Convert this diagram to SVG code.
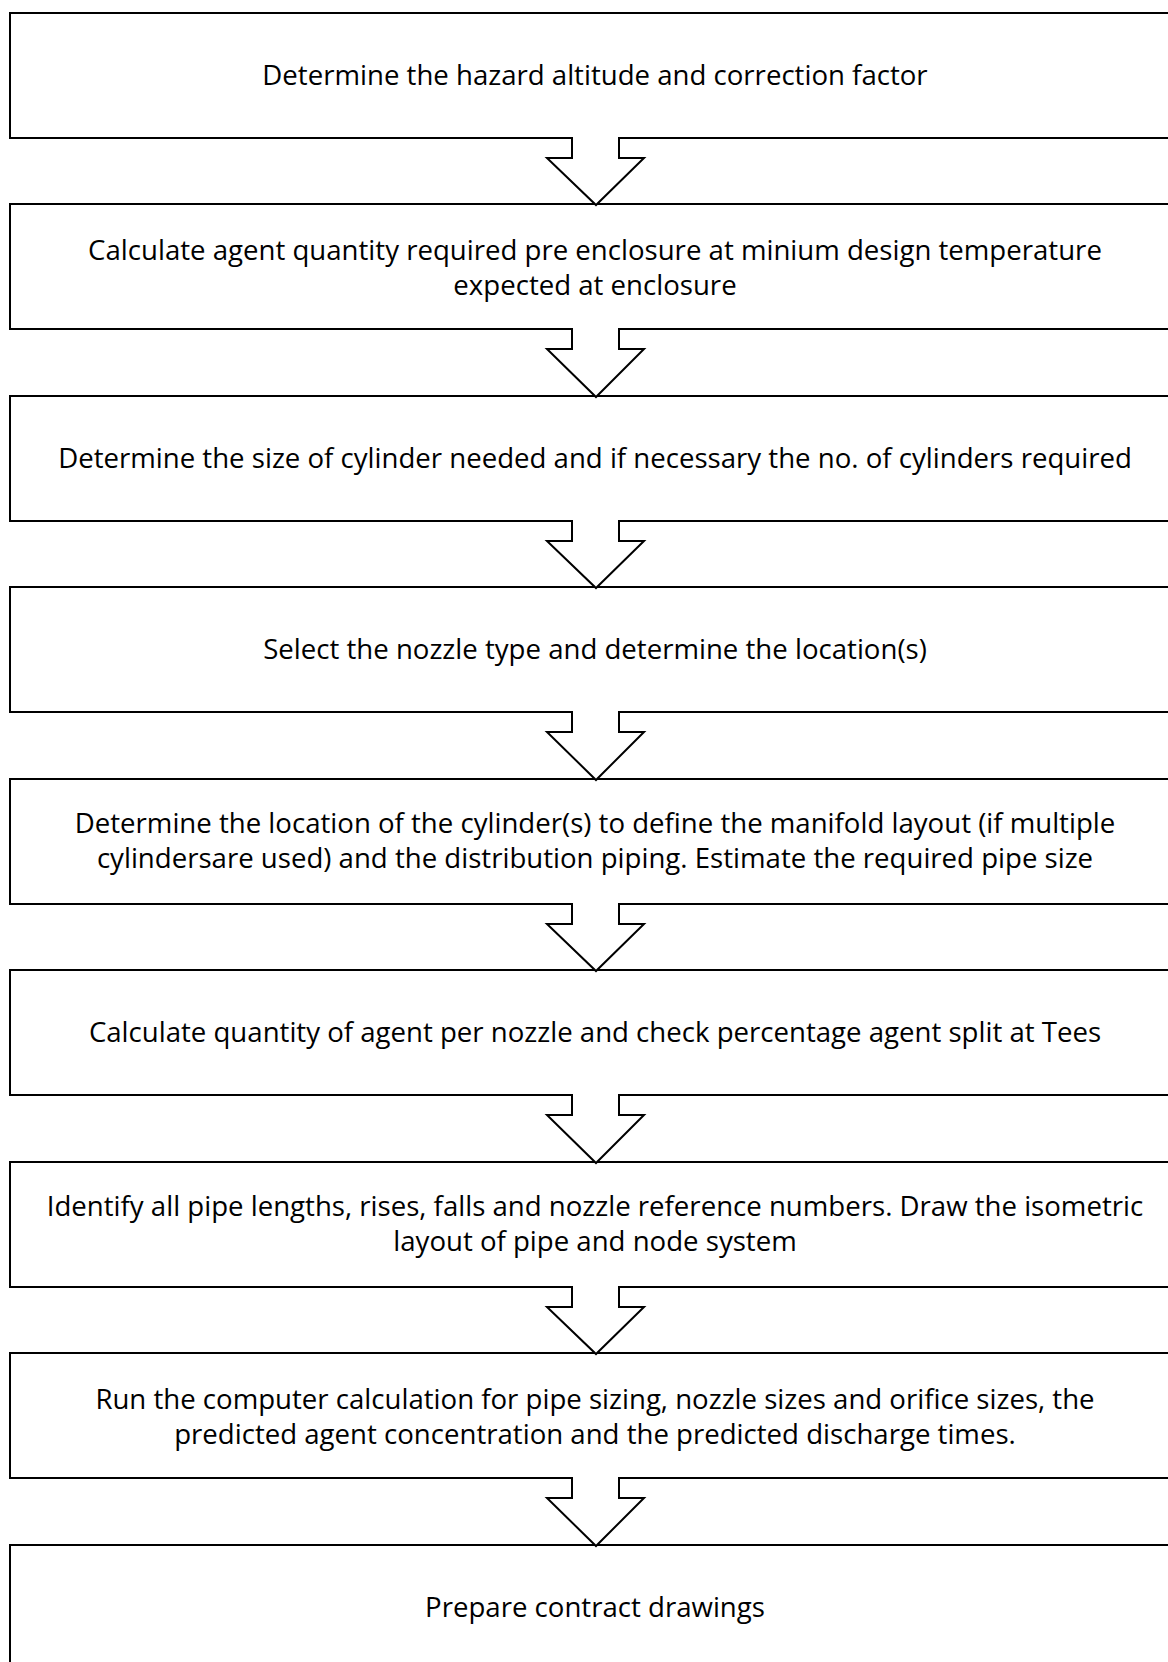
<svg xmlns="http://www.w3.org/2000/svg" width="1168" height="1662" viewBox="0 0 1168 1662">
  <style>
    .box { fill: #fff; stroke: #000; stroke-width: 2; }
    .arrow { fill: #fff; stroke: #000; stroke-width: 2; stroke-linejoin: miter; }
    .label { font-family: "Open Sans", "Noto Sans", "Liberation Sans", sans-serif; font-size: 27.6px; fill: #000; text-anchor: middle; }
  </style>
  <rect width="1168" height="1662" fill="#fff"/>

  <!-- process steps -->
  <g id="step1">
    <rect class="box" x="10" y="13" width="1170" height="125"/>
    <text class="label" x="595" y="84.5">Determine the hazard altitude and correction factor</text>
  </g>
  <g id="step2">
    <rect class="box" x="10" y="204" width="1170" height="125"/>
    <text class="label" x="595" y="259.5">Calculate agent quantity required pre enclosure at minium design temperature</text>
    <text class="label" x="595" y="294.5">expected at enclosure</text>
  </g>
  <g id="step3">
    <rect class="box" x="10" y="396" width="1170" height="125"/>
    <text class="label" x="595" y="467.5">Determine the size of cylinder needed and if necessary the no. of cylinders required</text>
  </g>
  <g id="step4">
    <rect class="box" x="10" y="587" width="1170" height="125"/>
    <text class="label" x="595" y="659">Select the nozzle type and determine the location(s)</text>
  </g>
  <g id="step5">
    <rect class="box" x="10" y="779" width="1170" height="125"/>
    <text class="label" x="595" y="833">Determine the location of the cylinder(s) to define the manifold layout (if multiple</text>
    <text class="label" x="595" y="868">cylindersare used) and the distribution piping. Estimate the required pipe size</text>
  </g>
  <g id="step6">
    <rect class="box" x="10" y="970" width="1170" height="125"/>
    <text class="label" x="595" y="1042">Calculate quantity of agent per nozzle and check percentage agent split at Tees</text>
  </g>
  <g id="step7">
    <rect class="box" x="10" y="1162" width="1170" height="125"/>
    <text class="label" x="595" y="1216">Identify all pipe lengths, rises, falls and nozzle reference numbers. Draw the isometric</text>
    <text class="label" x="595" y="1251">layout of pipe and node system</text>
  </g>
  <g id="step8">
    <rect class="box" x="10" y="1353" width="1170" height="125"/>
    <text class="label" x="595" y="1408.5">Run the computer calculation for pipe sizing, nozzle sizes and orifice sizes, the</text>
    <text class="label" x="595" y="1443.5">predicted agent concentration and the predicted discharge times.</text>
  </g>
  <g id="step9">
    <rect class="box" x="10" y="1545" width="1170" height="125"/>
    <text class="label" x="595" y="1616.5">Prepare contract drawings</text>
  </g>

  <!-- block arrows between steps; white fill hides the box edge under each stem -->
  <g id="connectors">
    <path class="arrow" d="M572,137 V158 H547 L596,205 L644,158 H619 V137"/>
    <path class="arrow" d="M572,328 V349 H547 L596,397 L644,349 H619 V328"/>
    <path class="arrow" d="M572,520 V541 H547 L596,588 L644,541 H619 V520"/>
    <path class="arrow" d="M572,711 V732 H547 L596,780 L644,732 H619 V711"/>
    <path class="arrow" d="M572,903 V924 H547 L596,971 L644,924 H619 V903"/>
    <path class="arrow" d="M572,1094 V1115 H547 L596,1163 L644,1115 H619 V1094"/>
    <path class="arrow" d="M572,1286 V1307 H547 L596,1354 L644,1307 H619 V1286"/>
    <path class="arrow" d="M572,1477 V1498 H547 L596,1546 L644,1498 H619 V1477"/>
  </g>
</svg>
